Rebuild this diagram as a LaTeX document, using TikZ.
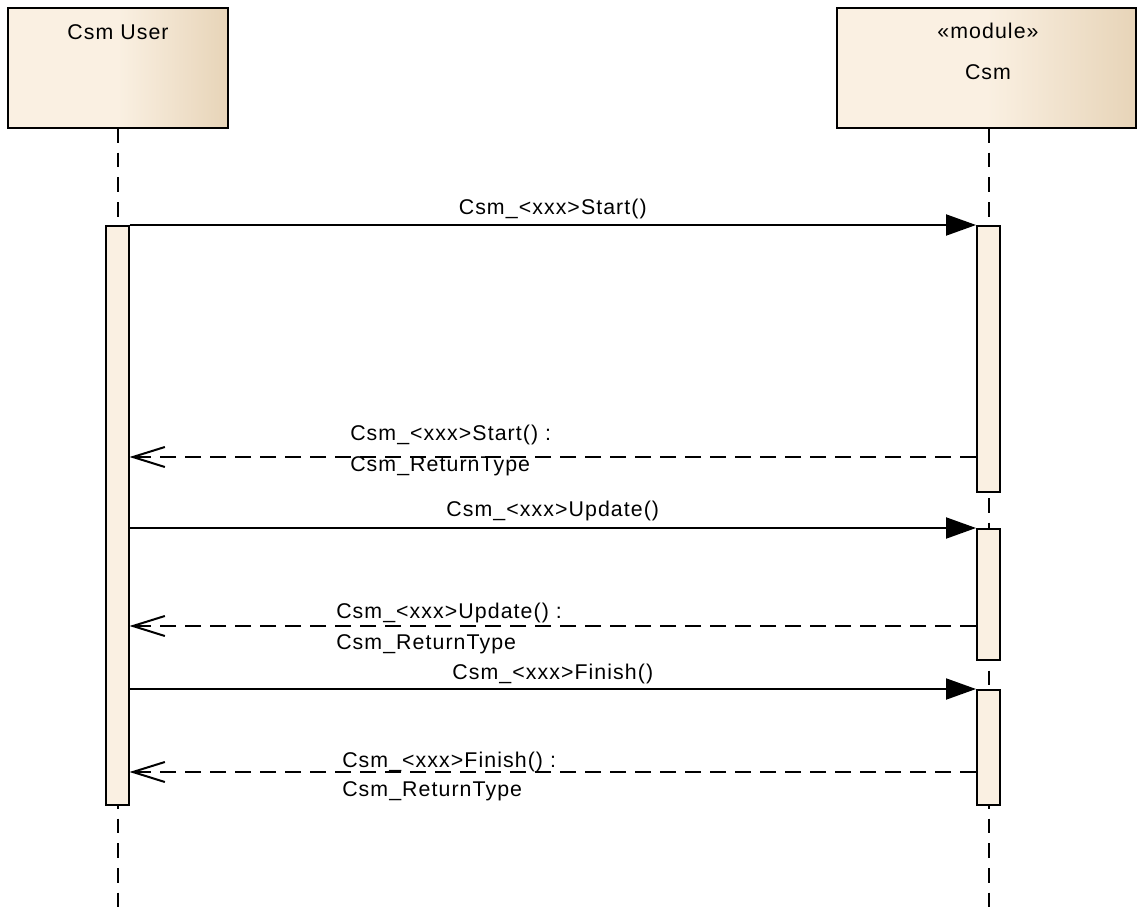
\documentclass[tikz,border=0pt]{standalone}
\usepackage{fontspec}
\setmainfont{Liberation Sans}[LetterSpace=5]
\usetikzlibrary{arrows.meta}
\definecolor{cream}{HTML}{FAF0E2}
\definecolor{tanshade}{HTML}{E7D4B8}
\pgfdeclarehorizontalshading{hdrshade}{100bp}{color(0bp)=(cream); color(25bp)=(cream); color(50bp)=(cream); color(75bp)=(tanshade); color(100bp)=(tanshade)}
\tikzset{
  hdrbox/.style={draw, line width=1.8pt, shading=hdrshade, minimum height=90pt, inner sep=0pt},
  actbox/.style={draw, line width=1.5pt, fill=cream, minimum width=17.25pt, inner sep=0pt},
  lifeline/.style={line width=1.5pt, dash pattern=on 11pt off 7.5pt},
  callmsg/.style={line width=1.5pt, -{Triangle[length=22.5pt,width=15.75pt]}},
  retmsg/.style={line width=1.5pt, dash pattern=on 12pt off 6.75pt, -{Straight Barb[length=24pt,width=15pt]}},
  txt/.style={inner sep=0pt, anchor=base},
  txtl/.style={inner sep=0pt, anchor=base west},
}
\begin{document}
\begin{tikzpicture}[x=0.75pt, y=-0.75pt, font=\fontsize{16}{19}\selectfont]
\useasboundingbox (0,0) rectangle (1137,913);
% header boxes
\node[hdrbox, minimum width=165pt] (user) at (118,68) {};
\node[hdrbox, minimum width=224.25pt] (csm) at (986.5,68) {};
\node[txt] (userlbl) at (118,40) {Csm User};
\node[txt] (stereo) at (988,39) {«module»};
\node[txt] (csmlbl) at (988,80) {Csm};
% lifelines
\coordinate (utop) at (118,128);
\coordinate (ubot) at (118,913);
\coordinate (ctop) at (989,128);
\coordinate (cbot) at (989,913);
\draw[lifeline] (utop) -- (ubot);
\draw[lifeline] (ctop) -- (cbot);
% activations
\node[actbox, minimum height=434.25pt] (ua) at (117,515.5) {};
\node[actbox, minimum height=199.5pt] (ca1) at (988.5,359) {};
\node[actbox, minimum height=98.25pt] (ca2) at (988.5,594.5) {};
\node[actbox, minimum height=86.25pt] (ca3) at (988.5,747.5) {};
% calls
\draw[callmsg] (ua.east |- ca1.north) -- node[txt, midway, yshift=8pt] {Csm\_<xxx>Start()} (ca1.north west);
\draw[callmsg] (ua.east |- ca2.north) -- node[txt, midway, yshift=8.5pt] {Csm\_<xxx>Update()} (ca2.north west);
\draw[callmsg] (ua.east |- ca3.north) -- node[txt, midway, yshift=7.5pt] {Csm\_<xxx>Finish()} (ca3.north west);
% returns
\coordinate (r1) at (0,457);
\coordinate (r2) at (0,626);
\coordinate (r3) at (0,772);
\draw[retmsg] (ca1.west |- r1) -- (ua.east |- r1);
\draw[retmsg] (ca2.west |- r2) -- (ua.east |- r2);
\draw[retmsg] (ca3.west |- r3) -- (ua.east |- r3);
\node[txtl] (r1a) at (350,440) {Csm\_<xxx>Start() :};
\node[txtl] (r1b) at (350,471) {Csm\_ReturnType};
\node[txtl] (r2a) at (336,618) {Csm\_<xxx>Update() :};
\node[txtl] (r2b) at (336,649) {Csm\_ReturnType};
\node[txtl] (r3a) at (342,767) {Csm\_<xxx>Finish() :};
\node[txtl] (r3b) at (342,796) {Csm\_ReturnType};
\end{tikzpicture}
\end{document}
